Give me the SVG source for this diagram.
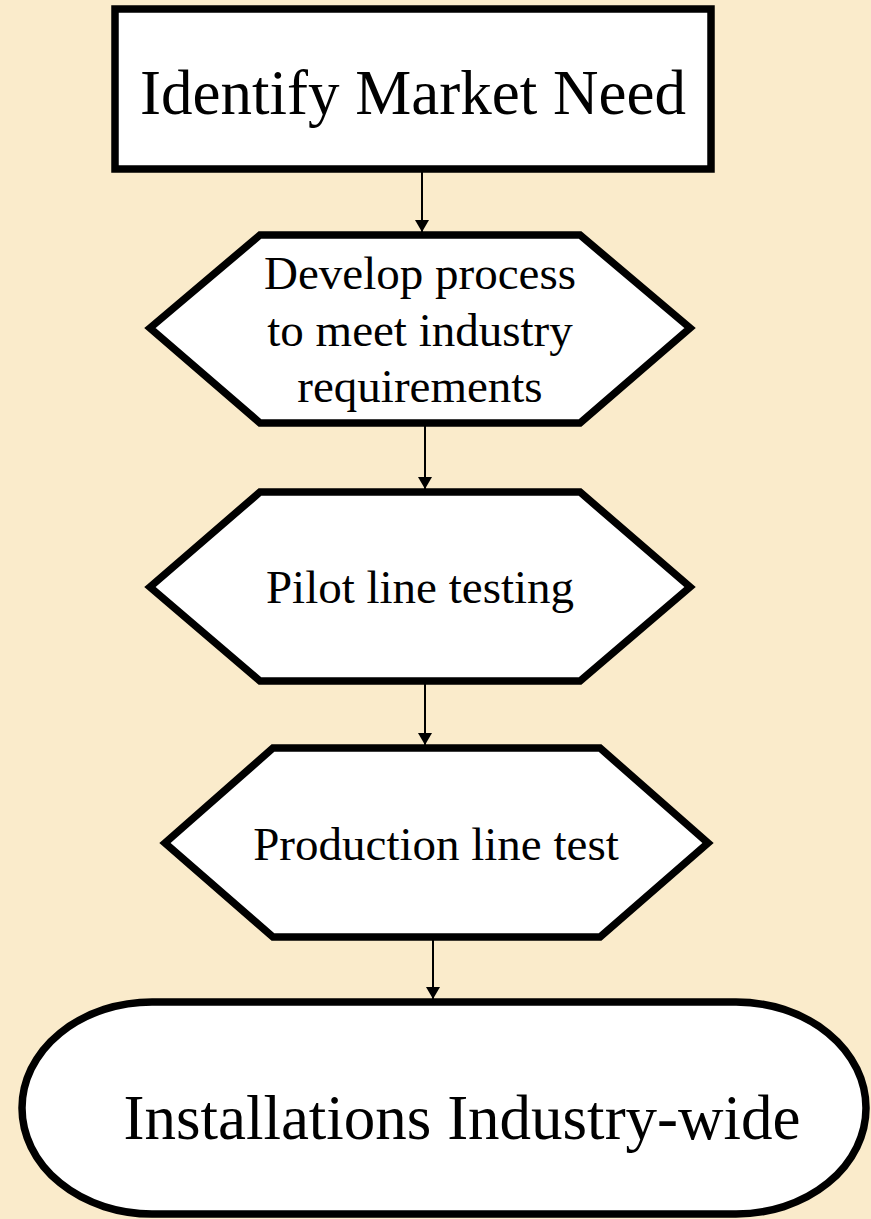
<svg xmlns="http://www.w3.org/2000/svg" width="871" height="1219" viewBox="0 0 871 1219">
<style>
.shape{fill:#ffffff;stroke:#000000;stroke-width:7.5;stroke-linejoin:miter}
.lbl{font-family:"Liberation Serif","Times New Roman",serif;fill:#000000;text-anchor:middle}
.conn{stroke:#000000;stroke-width:2;fill:none;marker-end:url(#ah)}
</style>
<defs>
<marker id="ah" viewBox="0 0 12 14" refX="12" refY="7" markerWidth="12" markerHeight="14" markerUnits="userSpaceOnUse" orient="auto">
<path d="M0,0 L12,7 L0,14 Z" fill="#000000"/>
</marker>
</defs>
<rect width="871" height="1219" fill="#faebcb"/>
<g id="n1">
<rect class="shape" x="115" y="9" width="596" height="160"/>
<text class="lbl" x="413" y="114" font-size="63">Identify Market Need</text>
</g>
<g id="n2">
<polygon class="shape" points="150,328 260,235 580,235 690,328 580,423 260,423"/>
<text class="lbl" x="420" y="289" font-size="47">Develop process</text>
<text class="lbl" x="420" y="346" font-size="47">to meet industry</text>
<text class="lbl" x="420" y="402" font-size="47">requirements</text>
</g>
<g id="n3">
<polygon class="shape" points="150,587 260,492 580,492 690,587 580,681 260,681"/>
<text class="lbl" x="420" y="603" font-size="47">Pilot line testing</text>
</g>
<g id="n4">
<polygon class="shape" points="165,843 273,748 600,748 708,843 600,937 273,937"/>
<text class="lbl" x="436" y="860" font-size="47">Production line test</text>
</g>
<g id="n5">
<rect class="shape" x="22" y="1002" width="844" height="212" rx="130" ry="106"/>
<text class="lbl" x="462" y="1139" font-size="63">Installations Industry-wide</text>
</g>
<g id="connectors">
<line class="conn" x1="422" y1="172" x2="422" y2="232"/>
<line class="conn" x1="425" y1="426" x2="425" y2="489"/>
<line class="conn" x1="425" y1="684" x2="425" y2="745"/>
<line class="conn" x1="433" y1="940" x2="433" y2="999"/>
</g>
</svg>
